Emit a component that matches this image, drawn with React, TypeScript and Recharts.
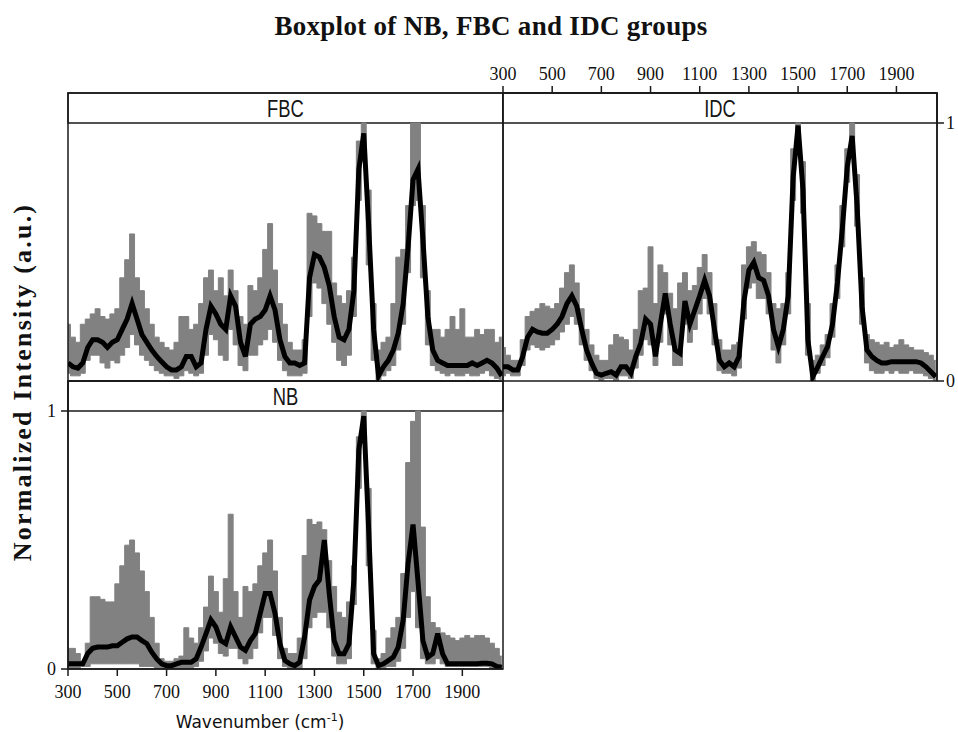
import React from 'react';
import { ComposedChart, Area, Line, XAxis, YAxis, ReferenceArea } from 'recharts';

// Wavenumber grid (cm-1)
const wavenumbers = [
  300, 320, 340, 360, 380, 400, 420, 440, 460, 480,
  500, 520, 540, 560, 580, 600, 620, 640, 660, 680,
  700, 720, 740, 760, 780, 800, 820, 840, 860, 880,
  900, 920, 940, 960, 980, 1000, 1020, 1040, 1060, 1080,
  1100, 1120, 1140, 1160, 1180, 1200, 1220, 1240, 1260, 1280,
  1300, 1320, 1340, 1360, 1380, 1400, 1420, 1440, 1460, 1480,
  1500, 1520, 1540, 1560, 1580, 1600, 1620, 1640, 1660, 1680,
  1700, 1720, 1740, 1760, 1780, 1800, 1820, 1840, 1860, 1880,
  1900, 1920, 1940, 1960, 1980, 2000, 2020, 2040, 2060,
];

// FBC group
const fbcMedian = [
  0.07, 0.055, 0.05, 0.07, 0.13, 0.16, 0.16, 0.15, 0.13, 0.15,
  0.16, 0.2, 0.24, 0.3, 0.24, 0.18, 0.15, 0.12, 0.095, 0.075,
  0.055, 0.043, 0.043, 0.055, 0.095, 0.095, 0.055, 0.07, 0.2, 0.29,
  0.26, 0.22, 0.2, 0.33, 0.29, 0.15, 0.095, 0.22, 0.24, 0.25,
  0.275, 0.33, 0.275, 0.16, 0.095, 0.07, 0.07, 0.06, 0.07, 0.4,
  0.49, 0.48, 0.44, 0.37, 0.25, 0.17, 0.16, 0.2, 0.35, 0.82,
  0.96, 0.6, 0.2, 0.02, 0.055, 0.08, 0.12, 0.185, 0.3, 0.52,
  0.78, 0.82, 0.55, 0.25, 0.12, 0.08, 0.07, 0.06, 0.06, 0.06,
  0.06, 0.06, 0.07, 0.06, 0.07, 0.08, 0.07, 0.05, 0.02,
];
const fbcHigh = [
  0.22, 0.17, 0.15, 0.22, 0.24, 0.26, 0.28, 0.25, 0.24, 0.26,
  0.28, 0.4, 0.47, 0.57, 0.4, 0.35, 0.28, 0.22, 0.17, 0.15,
  0.13, 0.12, 0.15, 0.25, 0.25, 0.2, 0.22, 0.3, 0.4, 0.43,
  0.35, 0.4, 0.33, 0.43, 0.35, 0.25, 0.22, 0.37, 0.35, 0.4,
  0.51, 0.61, 0.43, 0.3, 0.22, 0.15, 0.12, 0.12, 0.16, 0.65,
  0.64, 0.61, 0.58, 0.58, 0.38, 0.33, 0.3, 0.35, 0.48, 0.93,
  1.0, 0.74, 0.3, 0.12, 0.15, 0.17, 0.3, 0.48, 0.51, 0.68,
  1.0, 1.0, 0.68, 0.35, 0.2, 0.2, 0.17, 0.2, 0.25, 0.2,
  0.28, 0.17, 0.17, 0.2, 0.18, 0.2, 0.2, 0.15, 0.17,
];
const fbcLow = [
  0.03, 0.02, 0.02, 0.03, 0.08, 0.1, 0.1, 0.07, 0.05, 0.08,
  0.07, 0.1, 0.13, 0.18, 0.14, 0.1, 0.08, 0.06, 0.04, 0.03,
  0.02, 0.02, 0.01, 0.02, 0.04, 0.03, 0.02, 0.03, 0.1, 0.18,
  0.16, 0.1, 0.08, 0.2, 0.14, 0.06, 0.04, 0.1, 0.1, 0.14,
  0.16, 0.2, 0.15, 0.08, 0.04, 0.02, 0.02, 0.02, 0.03, 0.25,
  0.38, 0.36, 0.3, 0.22, 0.15, 0.08, 0.06, 0.1, 0.25, 0.7,
  0.85, 0.45, 0.08, 0.0, 0.02, 0.04, 0.06, 0.12, 0.22, 0.42,
  0.68, 0.7, 0.4, 0.14, 0.06, 0.04, 0.03, 0.02, 0.03, 0.02,
  0.02, 0.03, 0.02, 0.02, 0.03, 0.04, 0.02, 0.01, 0.0,
];

// IDC group
const idcMedian = [
  0.055, 0.055, 0.043, 0.043, 0.095, 0.17, 0.2, 0.19, 0.185, 0.185,
  0.2, 0.22, 0.25, 0.3, 0.33, 0.29, 0.2, 0.12, 0.07, 0.03,
  0.023, 0.03, 0.036, 0.023, 0.055, 0.055, 0.03, 0.095, 0.146, 0.24,
  0.22, 0.095, 0.22, 0.34, 0.22, 0.12, 0.107, 0.31, 0.22, 0.275,
  0.33, 0.39, 0.33, 0.2, 0.08, 0.055, 0.07, 0.055, 0.095, 0.31,
  0.43, 0.46, 0.4, 0.39, 0.33, 0.2, 0.133, 0.2, 0.33, 0.79,
  0.99, 0.74, 0.16, 0.017, 0.055, 0.095, 0.133, 0.22, 0.38, 0.59,
  0.83, 0.95, 0.68, 0.29, 0.12, 0.095, 0.08, 0.07, 0.07, 0.075,
  0.075, 0.075, 0.075, 0.075, 0.075, 0.07, 0.055, 0.036, 0.017,
];
const idcHigh = [
  0.13, 0.1, 0.08, 0.08, 0.16, 0.25, 0.27, 0.28, 0.3, 0.29,
  0.28, 0.3, 0.36, 0.42, 0.45, 0.38, 0.28, 0.2, 0.14, 0.1,
  0.08, 0.08, 0.14, 0.18, 0.17, 0.16, 0.12, 0.2, 0.35, 0.36,
  0.52, 0.3, 0.45, 0.42, 0.34, 0.28, 0.38, 0.42, 0.35, 0.37,
  0.44, 0.49, 0.42, 0.3, 0.16, 0.12, 0.12, 0.14, 0.15, 0.45,
  0.52, 0.54, 0.5, 0.49, 0.42, 0.3, 0.28, 0.3, 0.42, 0.9,
  1.0, 0.85, 0.3, 0.08, 0.1, 0.14, 0.18, 0.3, 0.45, 0.68,
  0.9, 1.0, 0.8, 0.4, 0.18, 0.16, 0.15, 0.14, 0.15, 0.13,
  0.14, 0.16, 0.14, 0.13, 0.12, 0.12, 0.11, 0.1, 0.08,
];
const idcLow = [
  0.02, 0.03, 0.02, 0.02, 0.06, 0.12, 0.14, 0.13, 0.12, 0.13,
  0.14, 0.16, 0.19, 0.22, 0.25, 0.22, 0.14, 0.08, 0.04, 0.01,
  0.0, 0.01, 0.01, 0.0, 0.02, 0.02, 0.01, 0.05, 0.1, 0.16,
  0.14, 0.06, 0.15, 0.26, 0.14, 0.06, 0.06, 0.22, 0.15, 0.2,
  0.26, 0.32, 0.26, 0.14, 0.04, 0.03, 0.03, 0.02, 0.05, 0.24,
  0.36, 0.38, 0.32, 0.32, 0.26, 0.12, 0.07, 0.14, 0.26, 0.7,
  0.94, 0.65, 0.1, 0.0, 0.03, 0.06, 0.09, 0.17, 0.32, 0.52,
  0.77, 0.88, 0.6, 0.22, 0.07, 0.04, 0.03, 0.03, 0.04, 0.03,
  0.04, 0.03, 0.03, 0.04, 0.03, 0.03, 0.02, 0.01, 0.0,
];

// NB group
const nbMedian = [
  0.02, 0.02, 0.02, 0.02, 0.06, 0.08, 0.085, 0.085, 0.085, 0.09,
  0.09, 0.104, 0.117, 0.124, 0.124, 0.11, 0.098, 0.065, 0.039, 0.02,
  0.013, 0.013, 0.02, 0.026, 0.026, 0.026, 0.039, 0.085, 0.137, 0.19,
  0.163, 0.11, 0.098, 0.163, 0.124, 0.085, 0.072, 0.11, 0.137, 0.215,
  0.293, 0.293, 0.215, 0.098, 0.033, 0.02, 0.013, 0.026, 0.124, 0.267,
  0.32, 0.345, 0.5, 0.293, 0.11, 0.059, 0.059, 0.098, 0.345, 0.85,
  0.98, 0.54, 0.059, 0.013, 0.02, 0.033, 0.046, 0.085, 0.19, 0.41,
  0.56, 0.34, 0.11, 0.046, 0.06, 0.137, 0.059, 0.02, 0.02, 0.02,
  0.02, 0.02, 0.02, 0.02, 0.022, 0.022, 0.02, 0.01, 0.007,
];
const nbHigh = [
  0.08, 0.08, 0.06, 0.03, 0.1, 0.28, 0.28, 0.27, 0.26, 0.26,
  0.33, 0.4, 0.48, 0.5, 0.45, 0.38, 0.3, 0.2, 0.1, 0.04,
  0.03, 0.03, 0.04, 0.05, 0.16, 0.12, 0.1, 0.16, 0.24, 0.36,
  0.3, 0.22, 0.35, 0.6, 0.3, 0.2, 0.32, 0.3, 0.33, 0.4,
  0.45, 0.5, 0.38, 0.2, 0.08, 0.06, 0.06, 0.12, 0.44, 0.58,
  0.56, 0.57, 0.54, 0.42, 0.32, 0.22, 0.2, 0.26, 0.4, 0.9,
  1.0, 0.7, 0.15, 0.04, 0.06, 0.12, 0.16, 0.2, 0.37, 0.8,
  0.96, 1.0, 0.55, 0.28, 0.18, 0.16, 0.14, 0.13, 0.12, 0.11,
  0.12, 0.13, 0.12, 0.13, 0.13, 0.12, 0.1, 0.08, 0.05,
];
const nbLow = [
  0.0, 0.0, 0.0, 0.01, 0.01, 0.02, 0.02, 0.02, 0.02, 0.02,
  0.02, 0.02, 0.02, 0.02, 0.02, 0.01, 0.01, 0.01, 0.0, 0.0,
  0.0, 0.0, 0.0, 0.0, 0.0, 0.0, 0.01, 0.03, 0.07, 0.12,
  0.1, 0.06, 0.05, 0.08, 0.08, 0.04, 0.02, 0.04, 0.08, 0.14,
  0.2, 0.2, 0.13, 0.04, 0.01, 0.0, 0.0, 0.0, 0.04, 0.16,
  0.2, 0.22, 0.22, 0.16, 0.05, 0.02, 0.02, 0.04, 0.25, 0.7,
  0.92, 0.4, 0.02, 0.0, 0.0, 0.01, 0.01, 0.03, 0.08, 0.2,
  0.3, 0.16, 0.04, 0.02, 0.02, 0.04, 0.02, 0.01, 0.01, 0.01,
  0.01, 0.01, 0.01, 0.01, 0.01, 0.01, 0.0, 0.0, 0.0,
];

const xTicks = [300, 500, 700, 900, 1100, 1300, 1500, 1700, 1900];
const yTicks = [0, 1];

const X_MIN = 300;
const X_MAX = 2065;
const PLOT_H = 258;
const STRIP_H = 30;
const Y_TOP = (PLOT_H + STRIP_H) / PLOT_H;
const FRAME = '#1a1a1a';
const GRAY = '#818181';
const SERIF = "'Liberation Serif', 'Times New Roman', serif";
const SANS = "'Liberation Sans', Arial, sans-serif";

type PanelProps = {
  name: string;
  lo: number[];
  med: number[];
  hi: number[];
  plotLeft: number;
  plotTop: number;
  plotW: number;
  top?: boolean;
  bottom?: boolean;
  left?: boolean;
  right?: boolean;
};

const M = 2;
const AX_LEFT = 34;
const AX_RIGHT = 19;
const AX_H = 34;

function StripLabel(props: any) {
  const vb = props.viewBox || {};
  const cx = vb.x + vb.width / 2;
  const cy = vb.y + vb.height / 2 + 1;
  return (
    <text
      x={0}
      y={0}
      transform={`translate(${cx},${cy}) scale(0.8,1)`}
      textAnchor="middle"
      dominantBaseline="central"
      fontFamily={SANS}
      fontSize={23}
      fill="#151515"
    >
      {props.value}
    </text>
  );
}

function Panel(p: PanelProps) {
  const data = wavenumbers.map((w, i) => ({ w, med: p.med[i], band: [p.lo[i], p.hi[i]] }));
  const lw = p.left ? AX_LEFT : 0;
  const rw = p.right ? AX_RIGHT : 0;
  const th = p.top ? AX_H : 0;
  const bh = p.bottom ? AX_H : 0;
  const mL = M + (p.top ? 20 : 0);
  const mB = M + (p.right ? 14 : 0);
  const width = p.plotW + mL + M + lw + rw;
  const height = PLOT_H + STRIP_H + M + mB + th + bh;
  const tickStyle = { fontFamily: SERIF, fontSize: 18, fill: '#111' };
  const lineStyle = { stroke: FRAME, strokeWidth: 1.5 };
  const showX = p.top || p.bottom;
  const showY = p.left || p.right;
  return (
    <div style={{ position: 'absolute', left: p.plotLeft - mL - lw, top: p.plotTop - M - th }}>
      <ComposedChart width={width} height={height} data={data} margin={{ top: M, right: M, bottom: mB, left: mL }}>
        <XAxis
          dataKey="w"
          type="number"
          domain={[X_MIN, X_MAX]}
          allowDataOverflow
          hide={!showX}
          orientation={p.top ? 'top' : 'bottom'}
          ticks={xTicks}
          interval={0}
          height={AX_H}
          tickSize={7}
          tickMargin={p.top ? 6 : 9}
          tick={tickStyle}
          axisLine={lineStyle}
          tickLine={lineStyle}
        />
        <YAxis
          type="number"
          domain={[0, Y_TOP]}
          allowDataOverflow
          hide={!showY}
          orientation={p.right ? 'right' : 'left'}
          ticks={yTicks}
          interval={0}
          width={p.right ? AX_RIGHT : AX_LEFT}
          tickSize={7}
          tickMargin={p.right ? 2 : 5}
          tick={tickStyle}
          axisLine={lineStyle}
          tickLine={lineStyle}
        />
        <ReferenceArea
          x1={X_MIN}
          x2={X_MAX}
          y1={1}
          y2={Y_TOP}
          fill="#ffffff"
          fillOpacity={1}
          stroke={FRAME}
          strokeWidth={1.5}
          label={<StripLabel value={p.name} />}
        />
        <Area
          type="step"
          dataKey="band"
          stroke={GRAY}
          strokeWidth={1}
          fill={GRAY}
          fillOpacity={1}
          isAnimationActive={false}
          dot={false}
          activeDot={false}
        />
        <Line
          type="linear"
          dataKey="med"
          stroke="#000"
          strokeWidth={5}
          strokeLinejoin="miter"
          dot={false}
          activeDot={false}
          isAnimationActive={false}
        />
        <ReferenceArea
          x1={X_MIN}
          x2={X_MAX}
          y1={0}
          y2={Y_TOP}
          fill="none"
          fillOpacity={0}
          stroke={FRAME}
          strokeWidth={1.5}
        />
      </ComposedChart>
    </div>
  );
}

export default function App() {
  return (
    <div
      style={{
        position: 'absolute',
        left: 0,
        top: 0,
        width: 958,
        height: 732,
        overflow: 'hidden',
        background: '#fff',
      }}
    >
      <div
        style={{
          position: 'absolute',
          left: 10,
          top: 11,
          width: 962,
          textAlign: 'center',
          fontFamily: SERIF,
          fontWeight: 'bold',
          fontSize: 27,
          letterSpacing: 0.3,
          lineHeight: '30px',
          color: '#111',
        }}
      >
        Boxplot of NB, FBC and IDC groups
      </div>

      <Panel name="NB" lo={nbLow} med={nbMedian} hi={nbHigh} plotLeft={68} plotTop={381} plotW={435} bottom left />
      <Panel name="FBC" lo={fbcLow} med={fbcMedian} hi={fbcHigh} plotLeft={68} plotTop={93} plotW={435} />
      <Panel name="IDC" lo={idcLow} med={idcMedian} hi={idcHigh} plotLeft={503} plotTop={93} plotW={434} top right />

      <div
        style={{
          position: 'absolute',
          left: 23 - 250,
          top: 382 - 15,
          width: 500,
          height: 30,
          lineHeight: '30px',
          textAlign: 'center',
          transform: 'rotate(-90deg)',
          transformOrigin: '50% 50%',
          fontFamily: SERIF,
          fontWeight: 'bold',
          fontSize: 26,
          letterSpacing: 2.2,
          color: '#111',
          whiteSpace: 'nowrap',
        }}
      >
        Normalized Intensity (a.u.)
      </div>

      <div
        style={{
          position: 'absolute',
          left: 260 - 150,
          top: 706,
          width: 300,
          textAlign: 'center',
          fontFamily: "'DejaVu Sans', Verdana, sans-serif",
          fontSize: 17,
          lineHeight: '24px',
          color: '#111',
          whiteSpace: 'nowrap',
        }}
      >
        Wavenumber (cm<sup style={{ fontSize: 11 }}>-1</sup>)
      </div>
    </div>
  );
}
